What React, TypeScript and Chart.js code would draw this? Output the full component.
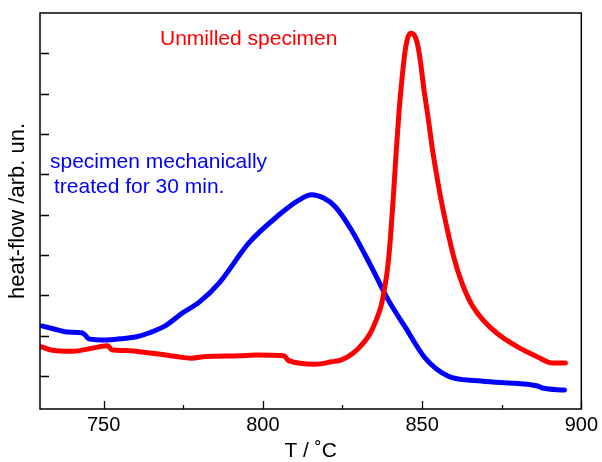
import React, { useEffect, useRef } from "react";
import { Chart, registerables } from "chart.js";

Chart.register(...registerables);

// Temperature (°C) and heat-flow (arb. units)
const redT = [730.6, 733.1, 740.3, 746.6, 751.3, 752.5, 757.2, 761.3, 766.6, 772.8, 777.5, 782.2, 792.5, 797.8, 806.6, 808.1, 816.6, 821.6, 824.7, 828.4, 831.6, 833.8, 835.6, 837.2, 838.1, 839.1, 840.0, 840.9, 841.9, 842.8, 843.8, 844.7, 845.6, 846.6, 847.5, 848.4, 849.4, 850.6, 851.9, 853.1, 854.4, 855.9, 857.8, 860.0, 862.5, 865.3, 869.1, 873.8, 880.0, 886.3, 890.9, 895.0];
const redV = [1.72, 1.65, 1.61, 1.69, 1.75, 1.65, 1.63, 1.60, 1.55, 1.48, 1.44, 1.48, 1.50, 1.52, 1.50, 1.38, 1.29, 1.35, 1.40, 1.57, 1.82, 2.07, 2.39, 2.76, 3.13, 3.63, 4.37, 5.36, 6.60, 7.60, 8.46, 9.08, 9.41, 9.50, 9.46, 9.28, 8.84, 8.09, 7.40, 6.70, 6.06, 5.39, 4.67, 3.93, 3.31, 2.81, 2.39, 2.04, 1.72, 1.47, 1.32, 1.32];

const blueT = [730.6, 734.1, 738.4, 743.1, 744.1, 745.3, 750.9, 755.0, 760.3, 764.4, 769.7, 774.7, 780.0, 786.3, 795.6, 805.0, 811.3, 815.3, 819.1, 822.8, 827.8, 834.1, 839.4, 844.7, 850.9, 858.1, 867.5, 875.9, 884.1, 886.3, 887.8, 894.7];
const blueV = [2.24, 2.17, 2.09, 2.07, 2.02, 1.92, 1.89, 1.92, 1.97, 2.07, 2.26, 2.56, 2.83, 3.31, 4.30, 4.99, 5.36, 5.49, 5.41, 5.19, 4.62, 3.70, 2.88, 2.21, 1.45, 1.00, 0.88, 0.83, 0.78, 0.75, 0.70, 0.65];

const xMajorTicks = [750, 800, 850, 900];
const xMinorTicks = [775, 825, 875];
const yTicks = [1, 2, 3, 4, 5, 6, 7, 8, 9];

const FONT = "'Liberation Sans', Arial, sans-serif";

const framePlugin = {
  id: "frame",
  afterDraw(chart: any) {
    const { ctx, chartArea: a, scales } = chart;
    const xs = scales.x;
    const ys = scales.y;
    ctx.save();
    ctx.strokeStyle = "#000";
    ctx.lineWidth = 1.3;
    ctx.beginPath();
    xMajorTicks.forEach((v) => {
      const p = Math.round(xs.getPixelForValue(v)) + 0.5;
      ctx.moveTo(p, a.bottom);
      ctx.lineTo(p, a.bottom - 8);
    });
    xMinorTicks.forEach((v) => {
      const p = Math.round(xs.getPixelForValue(v)) + 0.5;
      ctx.moveTo(p, a.bottom);
      ctx.lineTo(p, a.bottom - 4);
    });
    yTicks.forEach((v) => {
      const p = Math.round(ys.getPixelForValue(v)) + 0.5;
      ctx.moveTo(a.left, p);
      ctx.lineTo(a.left + 9, p);
    });
    ctx.stroke();
    ctx.lineWidth = 1.5;
    ctx.strokeRect(a.left, a.top, a.right - a.left, a.bottom - a.top);

    ctx.font = "21px " + FONT;
    ctx.textBaseline = "alphabetic";
    ctx.textAlign = "left";
    ctx.fillStyle = "#ff0000";
    ctx.fillText("Unmilled specimen", 160, 45);
    ctx.fillStyle = "#0000ff";
    ctx.fillText("specimen mechanically", 50, 168);
    ctx.fillText("treated for 30 min.", 54, 193);
    ctx.restore();
  },
};

export default function App() {
  const ref = useRef<HTMLCanvasElement | null>(null);
  useEffect(() => {
    if (!ref.current) return;
    const chart = new Chart(ref.current, {
      type: "line",
      data: {
        datasets: [
          {
            label: "Unmilled specimen",
            data: redT.map((t, i) => ({ x: t, y: redV[i] })),
            borderColor: "#ff0000",
            borderWidth: 5,
            pointRadius: 0,
            cubicInterpolationMode: "monotone",
            borderJoinStyle: "round",
            borderCapStyle: "round",
            fill: false,
          },
          {
            label: "specimen mechanically treated for 30 min.",
            data: blueT.map((t, i) => ({ x: t, y: blueV[i] })),
            borderColor: "#0000ff",
            borderWidth: 5,
            pointRadius: 0,
            cubicInterpolationMode: "monotone",
            borderJoinStyle: "round",
            borderCapStyle: "round",
            fill: false,
          },
        ],
      },
      options: {
        animation: false,
        responsive: false,
        devicePixelRatio: 1,
        layout: { padding: { top: 13, right: 17, left: 0, bottom: 0 } },
        plugins: { legend: { display: false }, tooltip: { enabled: false } },
        scales: {
          x: {
            type: "linear",
            min: 730,
            max: 900,
            grid: { display: false, drawTicks: false },
            border: { display: false },
            afterBuildTicks: (s: any) => {
              s.ticks = xMajorTicks.map((v) => ({ value: v }));
            },
            afterFit: (s: any) => {
              s.height = 53;
            },
            ticks: {
              color: "#000",
              font: { family: FONT, size: 20 },
              padding: 4,
              maxRotation: 0,
              autoSkip: false,
            },
            title: {
              display: true,
              text: "T / ˚C",
              color: "#000",
              font: { family: FONT, size: 21, lineHeight: 1 },
              padding: { top: 0, bottom: 0 },
            },
          },
          y: {
            type: "linear",
            min: 0.18,
            max: 10,
            grid: { display: false, drawTicks: false },
            border: { display: false },
            afterBuildTicks: (s: any) => {
              s.ticks = yTicks.map((v) => ({ value: v }));
            },
            afterFit: (s: any) => {
              s.width = 40;
            },
            ticks: { display: false },
            title: {
              display: true,
              text: "heat-flow /arb. un.",
              color: "#000",
              font: { family: FONT, size: 22, lineHeight: 1 },
              padding: { top: 7, bottom: 0 },
            },
          },
        },
      },
      plugins: [framePlugin],
    } as any);
    return () => chart.destroy();
  }, []);
  return (
    <div style={{ position: "absolute", left: 0, top: 0, width: 602, height: 462, background: "#fff" }}>
      <canvas ref={ref} width={602} height={462} />
    </div>
  );
}
